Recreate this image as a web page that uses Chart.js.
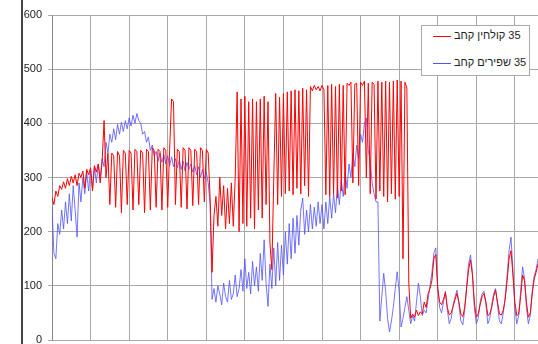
<!DOCTYPE html>
<html>
<head>
<meta charset="utf-8">
<script src="https://cdn.jsdelivr.net/npm/chart.js@4"></script>
<style>
body { margin: 0; overflow: hidden; background: #fff; }
#wrap { position: relative; width: 538px; height: 344px; overflow: hidden; }
#frame { position: absolute; left: 21px; top: 0; width: 2px; height: 344px; background: #444; }
canvas { position: absolute; left: 0; top: 0; }
#legend { position: absolute; left: 421px; top: 25px; width: 107px; height: 49px; border: 1px solid #aaa; background: #fff;
  font: 11px "Liberation Sans", Arial, sans-serif; color: #222; }
.row { position: absolute; left: 11px; height: 14px; line-height: 14px; white-space: nowrap; }
.sw { display: inline-block; width: 18px; height: 1px; vertical-align: middle; margin-right: 3px; }
</style>
</head>
<body>
<div id="wrap">
  <canvas id="chart" width="592" height="360"></canvas>
  <div id="frame"></div>
  <div id="legend"></div>
</div>
<script>
var seriesLabels = ["35 קולחין קחב", "35 שפירים קחב"];
var seriesColors = ["rgb(255,0,0)", "rgb(80,80,255)"];
var seriesWidths = [1, 0.8];
var yTicks = [0, 100, 200, 300, 400, 500, 600];

// one reading per step along the x axis
var kolchin = [
  262,250,275,265,285,278,292,280,298,285,
  302,290,305,285,308,300,312,280,315,305,
  318,275,322,310,325,290,330,405,300,345,
  250,345,340,245,348,340,235,350,345,250,
  350,345,240,352,348,250,350,345,235,352,
  348,240,355,350,245,352,348,240,355,350,
  245,352,445,440,250,352,348,245,355,350,
  242,355,350,248,352,348,250,355,350,255,
  352,345,260,125,230,265,210,300,230,285,
  205,280,215,290,210,300,458,200,445,215,
  450,210,440,225,445,205,440,240,445,225,
  450,250,440,180,130,300,455,250,448,265,
  455,270,458,275,460,268,462,280,460,270,
  465,285,462,265,468,460,470,462,468,460,
  470,462,268,470,265,472,270,468,262,472,
  275,470,268,474,470,476,290,472,474,285,
  476,470,478,300,474,270,476,472,260,478,
  275,476,265,478,255,476,270,478,260,480,
  265,478,150,476,465,105,40,48,42,55,
  45,52,48,70,60,85,95,110,150,158,
  95,70,65,75,88,60,46,50,62,75,
  86,70,48,43,60,95,130,148,120,70,
  42,48,65,80,86,70,45,48,60,80,
  92,70,48,46,55,75,110,150,165,120,
  70,45,48,80,120,110,70,42,50,85,
  112,125,140
];

var shapirim = [
  245,160,150,215,195,240,205,255,215,270,
  220,285,240,190,290,255,300,270,310,275,
  315,280,320,290,325,300,335,320,365,345,
  380,365,390,370,398,380,402,385,405,390,
  410,395,415,400,418,405,400,380,385,365,
  375,350,360,340,348,330,345,328,342,325,
  340,322,338,320,335,318,332,315,330,312,
  328,315,325,310,322,305,320,300,315,298,
  310,290,250,75,95,70,100,85,65,105,
  80,70,110,75,85,120,80,95,130,90,
  150,95,125,85,145,100,135,90,160,110,
  185,105,62,140,95,170,100,180,110,175,
  120,200,140,215,150,225,160,230,175,240,
  262,195,240,200,250,205,245,210,255,215,
  250,205,255,215,265,225,270,235,285,250,
  295,265,310,280,325,300,345,320,360,335,
  380,365,400,410,350,330,290,270,255,255,
  35,80,123,90,40,15,35,61,95,126,
  90,24,40,60,80,55,30,45,35,70,
  105,80,45,55,50,75,100,125,160,170,
  100,60,50,70,90,55,30,40,65,80,
  92,65,35,28,55,100,140,157,125,60,
  30,40,70,85,90,65,30,40,65,85,
  95,65,35,30,50,80,120,165,190,130,
  60,30,45,90,135,115,60,30,45,90,
  118,130,150
];

function toPoints(values) {
  var pts = [];
  for (var i = 0; i < values.length; i++) {
    pts.push({x: i, y: values[i]});
  }
  return pts;
}

var series = [kolchin, shapirim];
var datasets = [];
for (var i = 0; i < series.length; i++) {
  datasets.push({
    label: seriesLabels[i],
    data: toPoints(series[i]),
    borderColor: seriesColors[i],
    borderWidth: seriesWidths[i],
    pointRadius: 0,
    tension: 0,
    fill: false
  });
}

// legend box, same as the sheet's
var legend = document.getElementById("legend");
for (var j = 0; j < seriesLabels.length; j++) {
  var row = document.createElement("div");
  row.className = "row";
  row.style.top = (2 + j * 27) + "px";
  row.innerHTML = '<span class="sw" style="background:' + seriesColors[j] + '"></span><span dir="rtl">' + seriesLabels[j] + '</span>';
  legend.appendChild(row);
}

new Chart("chart", {
  type: "line",
  data: { datasets: datasets },
  options: {
    responsive: false,
    animation: false,
    layout: { padding: { left: 22, top: 15, right: 0, bottom: 20 } },
    plugins: { legend: { display: false }, tooltip: { enabled: false } },
    scales: {
      x: {
        type: "linear", min: 0, max: 280,
        ticks: { display: false, stepSize: 20 },
        grid: { color: "#a8a8a8", drawTicks: false },
        border: { display: false }
      },
      y: {
        min: 0, max: 600,
        afterBuildTicks: function (s) { s.ticks = yTicks.map(function (v) { return {value: v}; }); },
        afterFit: function (s) { s.width = 30; },
        ticks: { padding: 6, color: "#222", font: { family: "Liberation Sans", size: 11 } },
        grid: { color: "#a8a8a8", tickLength: 4 },
        border: { color: "#888" }
      }
    }
  }
});
</script>
</body>
</html>
